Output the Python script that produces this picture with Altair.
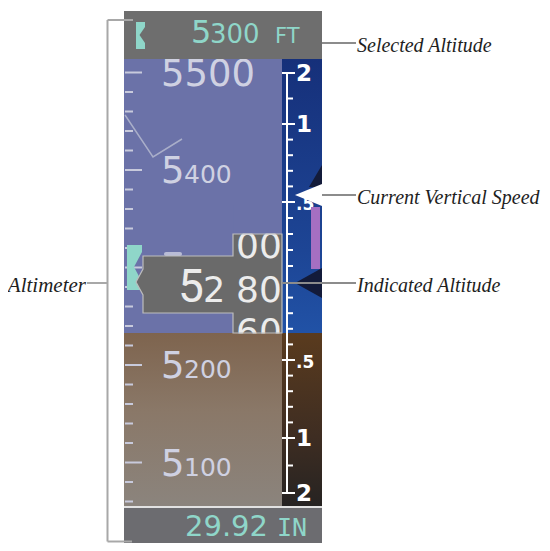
import altair as alt
import pandas as pd

# ---------------- values ----------------
selected_parts = ["5", "300", "FT"]          # selected altitude 5300 FT
baro_parts = ["29.92", "IN"]                 # barometric setting
tape_label_values = [5500, 5400, 5200, 5100]  # 5300 sits hidden behind the readout box
tape_tick_values = list(range(5060, 5521, 20))     # a tick every 20 ft
vsi_tick_values = [2, 1.5, 1, 0.9, 0.8, 0.7, 0.6, 0.5, 0.4, 0.3, 0.2, 0.1,
                   -0.1, -0.2, -0.3, -0.4, -0.5, -0.6, -0.7, -0.8, -0.9, -1, -1.5, -2]
vsi_major_values = [2, 1, 0.5, -0.5, -1, -2]
vsi_label_text = ["2", "1", ".5", ".5", "1", "2"]
indicated_parts = ["5", "2", "80"]           # indicated altitude 5280
drum_above = ["00"]
drum_below = ["60"]
callouts = ["Selected Altitude", "Current Vertical Speed", "Indicated Altitude", "Altimeter"]

# ---------------- layout (page pixels) ----------------
W, H = 534, 535
X0 = Y0 = 8
X = alt.Scale(domain=[X0, X0 + W], nice=False, zero=False)
PY = alt.Scale(domain=[Y0, Y0 + H], reverse=True, nice=False, zero=False)
FT_PX = 0.975          # pixels per foot on the tape
REF_ALT, REF_Y = 5400, 170
ALT = alt.Scale(domain=[REF_ALT - (Y0 + H - REF_Y) / FT_PX, REF_ALT + (REF_Y - Y0) / FT_PX],
                nice=False, zero=False)
VSI = alt.Scale(domain=[-2, -1, -0.5, 0, 0.5, 1, 2],
                range=[493 - Y0, 438 - Y0, 360 - Y0, 282 - Y0, 202 - Y0, 124 - Y0, 73 - Y0],
                nice=False, zero=False)

DIGIT = "DejaVu Sans"
NARROW = "Roboto"
SERIF = "Liberation Serif"
CYAN = "#8fd6c9"
TAPE_BLUE = "#6b72a8"
BROWN_TOP = "#7e644e"


def grad(stops):
    return alt.Gradient(gradient="linear", x1=0, x2=0, y1=0, y2=1,
                        stops=[alt.GradientStop(color=c, offset=o) for o, c in stops])


def rect(x0, x1, y0, y1, **mark):
    df = pd.DataFrame({"x0": [x0], "x1": [x1], "y0": [y0], "y1": [y1]})
    return alt.Chart(df).mark_rect(**mark).encode(
        x=alt.X("x0:Q", scale=X, axis=None), x2="x1:Q",
        y=alt.Y("y0:Q", scale=PY, axis=None), y2="y1:Q")


def segs(rows, **mark):
    df = pd.DataFrame(rows, columns=["x0", "y0", "x1", "y1"])
    return alt.Chart(df).mark_rule(**mark).encode(
        x=alt.X("x0:Q", scale=X, axis=None), x2="x1:Q",
        y=alt.Y("y0:Q", scale=PY, axis=None), y2="y1:Q")


def vpoly(rows, **mark):
    df = pd.DataFrame(rows, columns=["x", "top", "bot"])
    return alt.Chart(df).mark_area(**mark).encode(
        x=alt.X("x:Q", scale=X, axis=None),
        y=alt.Y("top:Q", scale=PY, axis=None), y2="bot:Q")


def hpoly(rows, **mark):
    df = pd.DataFrame(rows, columns=["y", "left", "right"])
    return alt.Chart(df).mark_area(orient="horizontal", **mark).encode(
        y=alt.Y("y:Q", scale=PY, axis=None),
        x=alt.X("left:Q", scale=X, axis=None), x2="right:Q")


def polyline(rows, **mark):
    df = pd.DataFrame(rows, columns=["x", "y"])
    df["i"] = range(len(df))
    return alt.Chart(df).mark_line(**mark).encode(
        x=alt.X("x:Q", scale=X, axis=None),
        y=alt.Y("y:Q", scale=PY, axis=None), order="i:Q")


def label(texts, xs, ys, **mark):
    df = pd.DataFrame({"t": texts, "x": xs, "y": ys})
    return alt.Chart(df).mark_text(**mark).encode(
        x=alt.X("x:Q", scale=X, axis=None),
        y=alt.Y("y:Q", scale=PY, axis=None), text="t:N")


layers = []

# backgrounds
layers.append(rect(124, 282, 59, 333, fill=TAPE_BLUE))
layers.append(rect(124, 282, 333, 506, fill=grad([(0, BROWN_TOP), (0.45, "#8a7868"), (1, "#8b847d")])))
layers.append(rect(282, 322, 59, 333, fill=grad([(0, "#16307a"), (0.7, "#1d4595"), (1, "#2152a6")])))
layers.append(rect(282, 322, 333, 506, fill=grad([(0, "#5a3b1e"), (0.6, "#3e2d22"), (1, "#262322")])))

# trend line on the tape
layers.append(polyline([(125, 115), (153, 157), (182, 139)], color="#a9aec9", strokeWidth=1.5))

# tape ticks
tk = pd.DataFrame({"alt": tape_tick_values})
tk["x0"] = 125
tk["x1"] = [142 if a % 100 == 0 else 133 for a in tape_tick_values]
layers.append(alt.Chart(tk).mark_rule(color="#c8cadc", strokeWidth=2).encode(
    y=alt.Y("alt:Q", scale=ALT, axis=None),
    x=alt.X("x0:Q", scale=X, axis=None), x2="x1:Q"))

# tape labels
lab = pd.DataFrame({"alt": tape_label_values})
top_label = max(tape_label_values)
lab["big"] = [str(v) if v == top_label else str(v)[0] for v in tape_label_values]
lab["small"] = ["" if v == top_label else str(v)[1:] for v in tape_label_values]
lab["xb"] = 161
lab["xs"] = 184
layers.append(alt.Chart(lab).mark_text(font=DIGIT, fontSize=37, color="#cfd1e2", align="left",
                                       baseline="alphabetic", dy=13).encode(
    y=alt.Y("alt:Q", scale=ALT, axis=None), x=alt.X("xb:Q", scale=X, axis=None), text="big:N"))
layers.append(alt.Chart(lab).mark_text(font=DIGIT, fontSize=25, color="#cfd1e2", align="left",
                                       baseline="alphabetic", dy=13).encode(
    y=alt.Y("alt:Q", scale=ALT, axis=None), x=alt.X("xs:Q", scale=X, axis=None), text="small:N"))
# the top of the hidden 5300 label peeks out above the readout box
layers.append(rect(164, 182, 252, 256, fill="#b9bcd6", cornerRadius=2))

# altitude bug on the tape
layers.append(hpoly([(245, 127, 142), (252, 127, 142), (267, 127, 134), (282, 127, 142), (290, 127, 142)],
                    fill=CYAN))

# indicated altitude box
box_fill = [(136, 282, 282), (143, 269, 295), (143, 256, 313), (233, 256, 313), (233, 234, 333), (282, 234, 333)]
layers.append(vpoly(box_fill, fill="#6a6a6a"))
layers.append(label([indicated_parts[0]], [178], [302], font=NARROW, fontSize=46, color="#ececec",
                    align="left", baseline="alphabetic"))
layers.append(label([indicated_parts[1]], [203], [302], font=DIGIT, fontSize=35, color="#ececec",
                    align="left", baseline="alphabetic"))
layers.append(label([indicated_parts[2]], [236], [302], font=DIGIT, fontSize=36, color="#ececec",
                    align="left", baseline="alphabetic"))
layers.append(label(drum_above, [236], [258], font=DIGIT, fontSize=36, color="#ececec",
                    align="left", baseline="alphabetic"))
layers.append(label(drum_below, [236], [344], font=DIGIT, fontSize=36, color="#ececec",
                    align="left", baseline="alphabetic"))
# drum windows hide digits outside them
layers.append(rect(233.5, 281.5, 205, 233.5, fill=TAPE_BLUE))
layers.append(rect(233.5, 281.5, 333.5, 352, fill=grad([(0, BROWN_TOP), (1, "#816954")])))
box_outline = [(136, 282), (143, 269), (143, 256), (233, 256), (233, 234), (282, 234), (282, 333),
               (233, 333), (233, 313), (143, 313), (143, 295), (136, 282)]
layers.append(polyline(box_outline, color="#bdbdbd", strokeWidth=1.2))

# vertical speed scale
layers.append(segs([(287, 73, 287, 493)], color="white", strokeWidth=2))
vt = pd.DataFrame({"v": vsi_tick_values})
vt["x0"] = [282 if v in vsi_major_values else 287 for v in vsi_tick_values]
vt["x1"] = [295 if v in vsi_major_values else 293 for v in vsi_tick_values]
layers.append(alt.Chart(vt).mark_rule(color="white", strokeWidth=2).encode(
    y=alt.Y("v:Q", scale=VSI, axis=None), x=alt.X("x0:Q", scale=X, axis=None), x2="x1:Q"))
vl = pd.DataFrame({"v": vsi_major_values, "t": vsi_label_text})
vl["x"] = 296
vl["big"] = [t != ".5" for t in vsi_label_text]
layers.append(alt.Chart(vl[vl.big]).mark_text(font=DIGIT, fontSize=23, fontWeight="bold", color="white",
                                              align="left", baseline="middle", dy=1).encode(
    y=alt.Y("v:Q", scale=VSI, axis=None), x=alt.X("x:Q", scale=X, axis=None), text="t:N"))
layers.append(alt.Chart(vl[~vl.big]).mark_text(font=DIGIT, fontSize=17, fontWeight="bold", color="white",
                                               align="left", baseline="middle", dy=3).encode(
    y=alt.Y("v:Q", scale=VSI, axis=None), x=alt.X("x:Q", scale=X, axis=None), text="t:N"))

# vertical speed pointer and trend
layers.append(rect(311, 320, 207, 269, fill="#a56fc2"))
layers.append(vpoly([(295, 283, 283), (322, 268, 298)], fill="#131b3a"))
layers.append(vpoly([(309, 187, 187), (322, 165, 187)], fill="#131b3a"))
layers.append(vpoly([(295, 195, 195), (322, 184, 206)], fill="white"))

# selected altitude box
layers.append(rect(124, 322, 11, 59, fill="#6e6e6e"))
layers.append(hpoly([(22, 136, 145), (27, 136, 145), (35, 136, 139.5), (43, 136, 145), (49, 136, 145)],
                    fill=CYAN))
layers.append(label([selected_parts[0]], [191], [43], font=DIGIT, fontSize=32, color=CYAN,
                    align="left", baseline="alphabetic"))
layers.append(label([selected_parts[1]], [210], [43], font=DIGIT, fontSize=26, color=CYAN,
                    align="left", baseline="alphabetic"))
layers.append(label([selected_parts[2]], [275], [43], font=DIGIT, fontSize=21, color=CYAN,
                    align="left", baseline="alphabetic"))

# barometric box (the page ends at y = 543)
layers.append(rect(124, 322, 508, 545, fill="#6c6c70"))
layers.append(segs([(124, 507, 322, 507)], color="#d8d8d8", strokeWidth=1.5))
layers.append(label([baro_parts[0]], [185], [536], font=DIGIT, fontSize=29, color=CYAN,
                    align="left", baseline="alphabetic"))
layers.append(label([baro_parts[1]], [277], [536], font="DejaVu Sans Mono", fontSize=25, color=CYAN,
                    align="left", baseline="alphabetic"))

# bracket and leader lines
layers.append(segs([(107.5, 20, 107.5, 541.5), (107.5, 20, 133, 20), (107.5, 541.5, 132, 541.5),
                    (87, 283, 107.5, 283)], color="#a8a8a8", strokeWidth=2))
layers.append(segs([(322, 43, 356, 43), (322, 195, 356, 195), (282, 283, 356, 283)],
                   color="#8c8c8c", strokeWidth=2))

# callout texts
layers.append(label(callouts[:3], [357, 357, 357], [52, 204, 292], font=SERIF, fontSize=20,
                    fontStyle="italic", color="#1e1e1e", align="left", baseline="alphabetic"))
layers.append(label(callouts[3:], [86], [292], font=SERIF, fontSize=21,
                    fontStyle="italic", color="#1e1e1e", align="right", baseline="alphabetic"))

chart = alt.layer(*layers).resolve_scale(y="independent").properties(
    width=W, height=H, padding=0, autosize=alt.AutoSizeParams(type="none"),
    background="white",
).configure_view(stroke=None)

chart.save("out.html", embed_options={"renderer": "svg", "actions": False})
